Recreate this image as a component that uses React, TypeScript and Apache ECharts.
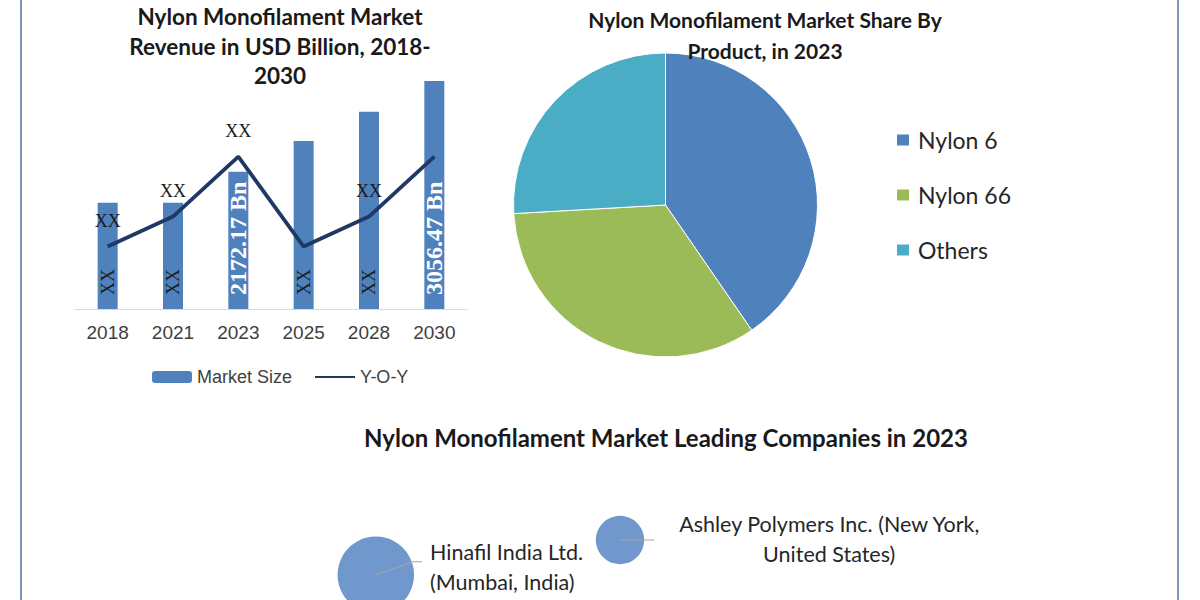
import React, { useEffect, useRef } from "react";
import * as echarts from "echarts";

// ---- data ----
const years = ["2018", "2021", "2023", "2025", "2028", "2030"];
const marketSize = [1870, 1870, 2172.17, 2472, 2757, 3056.47];
const marketSizeLabels = ["XX", "XX", "2172.17 Bn", "XX", "XX", "3056.47 Bn"];
const yoy = [3, 4, 6, 3, 4, 6];
const yoyLabels = ["XX", "XX", "XX", "", "XX", ""];

const products = ["Nylon 6", "Nylon 66", "Others"];
const productShare = [40.4, 33.7, 25.9];

const companies = [
  "Hinafil India Ltd.\n(Mumbai, India)",
  "Ashley Polymers Inc. (New York,\nUnited States)",
];
const companyX = [0.93, 5.0];
const companyY = [2.1, 5.0];
const companySize = [25, 10];
const leaderHinafil = [
  [0.93, 2.1],
  [1.55, 3.19],
  [1.7, 3.19],
];
const leaderAshley = [
  [5.0, 5.0],
  [5.57, 5.0],
];

// ---- styles ----
const barColor = "#4f81bd";
const lineColor = "#1f3864";
const pieColors = ["#4f81bd", "#9bbb59", "#4bacc6"];
const bubbleColor = "#7198cc";
const titleFont = "Lato";
const titleColor = "#1a1a1a";

export default function App() {
  const ref = useRef<HTMLDivElement>(null);

  useEffect(() => {
    if (!ref.current) return;
    const chart = echarts.init(ref.current, null, { renderer: "svg" });

    const companyLabels: any[] = [
      { position: "right", distance: 16, align: "left", offset: [0, -8] },
      { position: "right", distance: 0, align: "center", offset: [185, -1] },
    ];

    const option: any = {
      animation: false,
      backgroundColor: "#ffffff",
      title: [
        {
          text: "Nylon Monofilament Market\nRevenue in USD Billion, 2018-\n2030",
          left: 280,
          top: 2,
          padding: 0,
          textAlign: "center",
          textStyle: {
            fontFamily: titleFont,
            fontWeight: "bold",
            fontSize: 22.5,
            lineHeight: 29.5,
            color: titleColor,
          },
        },
        {
          text: "Nylon Monofilament Market Share By\nProduct, in 2023",
          left: 765,
          top: 4,
          padding: 0,
          textAlign: "center",
          textStyle: {
            fontFamily: titleFont,
            fontWeight: "bold",
            fontSize: 21,
            lineHeight: 31,
            color: titleColor,
          },
        },
        {
          text: "Nylon Monofilament Market Leading Companies in 2023",
          left: 666,
          top: 424,
          padding: 0,
          textAlign: "center",
          textStyle: {
            fontFamily: titleFont,
            fontWeight: "bold",
            fontSize: 24,
            lineHeight: 26,
            color: titleColor,
          },
        },
      ],
      legend: [
        {
          data: [
            { name: "Market Size" },
            { name: "Y-O-Y", itemStyle: { opacity: 0 } },
          ],
          left: 152,
          top: 367,
          padding: 0,
          itemWidth: 40,
          itemHeight: 12,
          itemGap: 22,
          selectedMode: false,
          textStyle: {
            fontFamily: "Liberation Sans",
            fontSize: 18,
            lineHeight: 20,
            color: "#404040",
          },
        },
        {
          data: products,
          orient: "vertical",
          left: 895,
          top: 128,
          padding: 0,
          icon: "rect",
          itemWidth: 14,
          itemHeight: 13,
          itemGap: 31,
          selectedMode: false,
          textStyle: {
            fontFamily: "Lato",
            fontSize: 23,
            lineHeight: 24,
            color: "#262626",
            padding: [0, 0, 0, 3],
          },
        },
      ],
      grid: [
        { left: 75, width: 392, top: 60, height: 249 },
        { left: 320, top: 480, width: 600, height: 120 },
      ],
      xAxis: [
        {
          type: "category",
          data: years,
          gridIndex: 0,
          axisLine: { onZero: false, lineStyle: { color: "#d9d9d9", width: 1 } },
          axisTick: { show: false },
          axisLabel: {
            fontFamily: "Liberation Sans",
            fontSize: 19,
            color: "#404040",
            margin: 14,
          },
        },
        { type: "value", gridIndex: 1, min: 0, max: 10, show: false },
      ],
      yAxis: [
        { type: "value", gridIndex: 0, min: 835, max: 3261, show: false },
        { type: "value", gridIndex: 0, min: 0.92, max: 9.22, show: false },
        { type: "value", gridIndex: 1, min: 0, max: 10, show: false },
      ],
      series: [
        {
          type: "bar",
          name: "Market Size",
          xAxisIndex: 0,
          yAxisIndex: 0,
          data: marketSize,
          barWidth: 20,
          itemStyle: { color: barColor },
          label: {
            show: true,
            position: "insideBottom",
            rotate: 90,
            align: "left",
            verticalAlign: "middle",
            distance: 14,
            formatter: (p: any) => {
              const t = marketSizeLabels[p.dataIndex];
              return t === "XX" ? `{x|${t}}` : `{v|${t}}`;
            },
            rich: {
              x: { fontFamily: "Liberation Serif", fontSize: 18, color: "#1a1a1a" },
              v: {
                fontFamily: "Liberation Serif",
                fontWeight: "bold",
                fontSize: 24,
                color: "#ffffff",
              },
            },
          },
        },
        {
          type: "line",
          name: "Y-O-Y",
          xAxisIndex: 0,
          yAxisIndex: 1,
          data: yoy,
          symbol: "circle",
          symbolSize: 0,
          lineStyle: { color: lineColor, width: 3.8 },
          itemStyle: { color: lineColor },
          label: {
            show: true,
            position: "top",
            distance: 17,
            formatter: (p: any) => yoyLabels[p.dataIndex],
            fontFamily: "Liberation Serif",
            fontSize: 18,
            color: "#1a1a1a",
          },
          z: 3,
        },
        {
          type: "pie",
          name: "Share",
          center: [665.5, 205],
          radius: 152,
          startAngle: 90,
          clockwise: true,
          color: pieColors,
          data: products.map((n, i) => ({ name: n, value: productShare[i] })),
          label: { show: false },
          labelLine: { show: false },
          itemStyle: { borderColor: "#ffffff", borderWidth: 1 },
          silent: true,
        },
        {
          type: "scatter",
          name: "Companies",
          xAxisIndex: 1,
          yAxisIndex: 2,
          clip: false,
          symbolSize: (v: number[]) => Math.sqrt(v[2]) * 15.3,
          itemStyle: { color: bubbleColor, opacity: 1 },
          data: companies.map((n, i) => ({
            name: n,
            value: [companyX[i], companyY[i], companySize[i]],
            label: companyLabels[i],
          })),
          label: {
            show: true,
            formatter: "{b}",
            fontFamily: "Lato",
            fontSize: 21.5,
            lineHeight: 30,
            color: "#262626",
          },
          silent: true,
        },
        {
          type: "line",
          name: "leader1",
          xAxisIndex: 1,
          yAxisIndex: 2,
          data: leaderHinafil,
          symbol: "none",
          clip: false,
          lineStyle: { color: "#a6a6a6", width: 1 },
          silent: true,
          z: 4,
        },
        {
          type: "line",
          name: "leader2",
          xAxisIndex: 1,
          yAxisIndex: 2,
          data: leaderAshley,
          symbol: "none",
          clip: false,
          lineStyle: { color: "#a6a6a6", width: 1 },
          silent: true,
          z: 4,
        },
      ],
      graphic: [
        {
          type: "line",
          shape: { x1: 21, y1: 0, x2: 21, y2: 600 },
          style: { stroke: "#7f98b3", lineWidth: 2 },
        },
        {
          type: "line",
          shape: { x1: 1178, y1: 0, x2: 1178, y2: 600 },
          style: { stroke: "#7f98b3", lineWidth: 2 },
        },
      ],
    };

    chart.setOption(option);
    return () => chart.dispose();
  }, []);

  return (
    <div
      ref={ref}
      style={{ position: "fixed", left: 0, top: 0, width: 1200, height: 600 }}
    />
  );
}
